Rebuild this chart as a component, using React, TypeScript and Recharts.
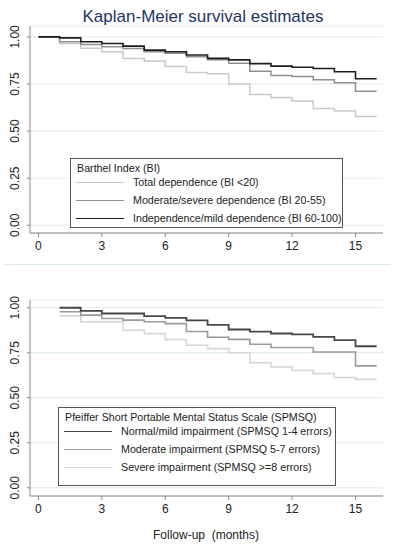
import React from "react"
import { LineChart, Line, XAxis, YAxis, CartesianGrid } from "recharts"

// Barthel Index panel (months 0-16)
const topMonths = [0, 1, 2, 3, 4, 5, 6, 7, 8, 9, 10, 11, 12, 13, 14, 15, 16]
const totalDep = [1.0, 0.965, 0.94, 0.921, 0.886, 0.872, 0.843, 0.811, 0.805, 0.75, 0.694, 0.678, 0.66, 0.62, 0.607, 0.577, 0.577]
const moderateDep = [1.0, 0.975, 0.96, 0.948, 0.939, 0.921, 0.913, 0.895, 0.879, 0.86, 0.818, 0.795, 0.79, 0.773, 0.757, 0.712, 0.712]
const independence = [1.0, 0.995, 0.974, 0.965, 0.951, 0.93, 0.921, 0.904, 0.886, 0.878, 0.858, 0.845, 0.839, 0.832, 0.815, 0.778, 0.778]

// Pfeiffer SPMSQ panel (months 1-16)
const botMonths = [1, 2, 3, 4, 5, 6, 7, 8, 9, 10, 11, 12, 13, 14, 15, 16]
const normalImp = [1.0, 0.983, 0.968, 0.968, 0.953, 0.944, 0.93, 0.905, 0.879, 0.867, 0.857, 0.852, 0.838, 0.82, 0.786, 0.786]
const moderateImp = [0.978, 0.959, 0.94, 0.931, 0.922, 0.912, 0.868, 0.836, 0.824, 0.797, 0.779, 0.779, 0.754, 0.754, 0.677, 0.677]
const severeImp = [0.955, 0.922, 0.922, 0.875, 0.856, 0.823, 0.792, 0.773, 0.75, 0.695, 0.671, 0.652, 0.634, 0.612, 0.602, 0.602]

const xTicks = [0, 3, 6, 9, 12, 15]
const yTicks = [0, 0.25, 0.5, 0.75, 1]

const font = '"Liberation Sans", Arial, sans-serif'
const axisColor = "#8a8a8a"
const gridColor = "#dbeaf0"

const toRows = (months: number[], vals: number[]) => months.map((t, i) => ({ t, s: vals[i] }))

const YTick = (props: any) => {
  const { x, y, payload } = props
  const tx = x - 5.5
  return (
    <text x={tx} y={y} transform={`rotate(-90 ${tx} ${y})`} textAnchor="middle" fontSize={12} fill="#222" fontFamily={font}>
      {payload.value.toFixed(2)}
    </text>
  )
}

interface Series { name: string; values: number[]; color: string; width: number }

const Panel: React.FC<{ months: number[]; series: Series[]; height: number; top: number; bottom: number; yDomain: [number, number] }> = ({ months, series, height, top, bottom, yDomain }) => (
  <LineChart width={394} height={height} margin={{ top, right: 11, bottom, left: 0 }}>
    <CartesianGrid vertical={false} stroke={gridColor} strokeWidth={1} />
    <XAxis
      type="number"
      dataKey="t"
      domain={[-0.4, 16.3]}
      ticks={xTicks}
      allowDataOverflow
      height={30}
      stroke={axisColor}
      tickSize={4}
      tickMargin={4}
      tick={{ fill: "#222", fontSize: 12, fontFamily: font }}
    />
    <YAxis
      type="number"
      domain={yDomain}
      ticks={yTicks}
      allowDataOverflow
      width={30}
      stroke={axisColor}
      tickSize={3}
      tick={<YTick />}
    />
    {series.map((s) => (
      <Line
        key={s.name}
        data={toRows(months, s.values)}
        dataKey="s"
        name={s.name}
        type="stepAfter"
        stroke={s.color}
        strokeWidth={s.width}
        dot={false}
        isAnimationActive={false}
      />
    ))}
  </LineChart>
)

const LegendBox: React.FC<{ left: number; top: number; width: number; height: number; title: string; items: Series[]; textLeft: number; lineW: number }> = ({ left, top, width, height, title, items, textLeft, lineW }) => (
  <div style={{ position: "absolute", left, top, width, height, border: "1px solid #555", background: "#fff", boxSizing: "border-box", fontFamily: font, fontSize: 10.7, color: "#222" }}>
    <div style={{ position: "absolute", left: 6, top: 3 }}>{title}</div>
    {items.map((it, i) => (
      <div key={it.name} style={{ position: "absolute", left: 5, top: 17 + i * 18, height: 14, width: width - 10 }}>
        <div style={{ position: "absolute", left: 0, top: 6, width: lineW, borderTop: `${it.width}px solid ${it.color}` }} />
        <div style={{ position: "absolute", left: textLeft, top: 0, whiteSpace: "nowrap" }}>{it.name}</div>
      </div>
    ))}
  </div>
)

const topSeries: Series[] = [
  { name: "Total dependence (BI <20)", values: totalDep, color: "#c9c9c9", width: 1.5 },
  { name: "Moderate/severe dependence (BI 20-55)", values: moderateDep, color: "#8f8f8f", width: 1.5 },
  { name: "Independence/mild dependence (BI 60-100)", values: independence, color: "#1c1c1c", width: 1.6 },
]

const botSeries: Series[] = [
  { name: "Normal/mild impairment (SPMSQ 1-4 errors)", values: normalImp, color: "#474747", width: 1.8 },
  { name: "Moderate impairment (SPMSQ 5-7 errors)", values: moderateImp, color: "#9a9a9a", width: 1.6 },
  { name: "Severe impairment (SPMSQ >=8 errors)", values: severeImp, color: "#d6d6d6", width: 1.6 },
]

export default function App() {
  return (
    <div style={{ position: "absolute", left: 0, top: 0, width: 394, height: 550, background: "#fff", overflow: "hidden", fontFamily: font }}>
      <div style={{ position: "absolute", left: 0, width: 394, top: 7, textAlign: "center", fontSize: 17, color: "#1f3566", paddingLeft: 12, boxSizing: "border-box" }}>
        Kaplan-Meier survival estimates
      </div>
      <div style={{ position: "absolute", left: 0, top: 0 }}>
        <Panel months={topMonths} series={topSeries} height={265} top={26} bottom={2} yDomain={[-0.041, 1.058]} />
      </div>
      <div style={{ position: "absolute", left: 3, top: 264, width: 387, borderTop: `1px solid ${gridColor}` }} />
      <div style={{ position: "absolute", left: 0, top: 265 }}>
        <Panel months={botMonths} series={[...botSeries].reverse()} height={285} top={35} bottom={24} yDomain={[-0.046, 1.043]} />
      </div>
      <LegendBox left={70} top={158} width={273} height={70} title="Barthel Index (BI)" items={topSeries} textLeft={57} lineW={48} />
      <LegendBox left={58} top={407} width={278} height={79} title="Pfeiffer Short Portable Mental Status Scale (SPMSQ)" items={botSeries} textLeft={57} lineW={48} />
      <div style={{ position: "absolute", left: 0, width: 394, top: 528, textAlign: "center", fontSize: 12, color: "#222", paddingLeft: 18, boxSizing: "border-box" }}>
        Follow-up&nbsp;&nbsp;(months)
      </div>
    </div>
  )
}
